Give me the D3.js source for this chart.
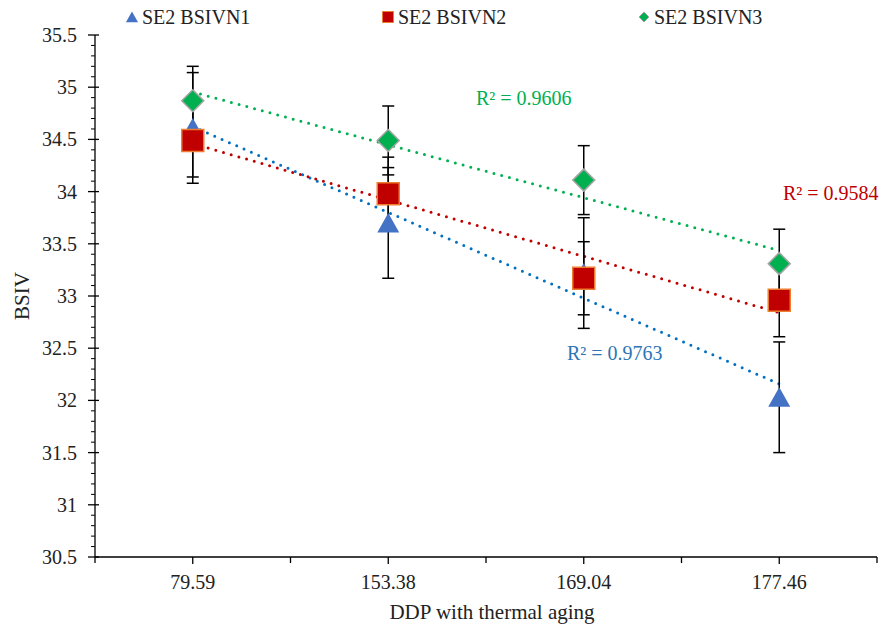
<!DOCTYPE html>
<html>
<head>
<meta charset="utf-8">
<script src="https://cdn.jsdelivr.net/npm/d3@7"></script>
<style>
  body { margin: 0; background: #fff; }
  svg text { font-family: "Liberation Serif", "Times New Roman", serif; }
</style>
</head>
<body>
<div id="chart"></div>
<script>
// DDP categories on the x axis
const categories = ['79.59', '153.38', '169.04', '177.46'];

// BSIV means per series
const bsivn1 = [34.61, 33.70, 33.22, 32.03];
const bsivn2 = [34.49, 33.98, 33.17, 32.96];
const bsivn3 = [34.87, 34.49, 34.11, 33.31];

// error bar half-heights
const err1 = [0.53, 0.53, 0.53, 0.53];
const err2 = [0.35, 0.35, 0.35, 0.35];
const err3 = [0.33, 0.33, 0.33, 0.33];

const seriesNames = ['SE2 BSIVN1', 'SE2 BSIVN2', 'SE2 BSIVN3'];
const r2Labels = ['R² = 0.9763', 'R² = 0.9584', 'R² = 0.9606'];
const yTicks = [30.5, 31, 31.5, 32, 32.5, 33, 33.5, 34, 34.5, 35, 35.5];

const width = 889, height = 628;
const plot = { left: 95, right: 877, top: 35, bottom: 557 };

const svg = d3.select('#chart').append('svg')
  .attr('width', width)
  .attr('height', height);

const x = d3.scaleBand().domain(categories).range([plot.left, plot.right]).padding(0);
const y = d3.scaleLinear().domain([30.5, 35.5]).range([plot.bottom, plot.top]);
const cx = c => x(c) + x.bandwidth() / 2;

const series = [
  { name: seriesNames[0], values: bsivn1, err: err1, shape: 'tri', fill: '#4472C4', stroke: 'none', trend: '#0070C0', label: r2Labels[0], lx: 567, ly: 360, lc: '#2E75B6' },
  { name: seriesNames[1], values: bsivn2, err: err2, shape: 'sq', fill: '#C00000', stroke: '#ED7D31', trend: '#C00000', label: r2Labels[1], lx: 783, ly: 200, lc: '#C00000' },
  { name: seriesNames[2], values: bsivn3, err: err3, shape: 'dia', fill: '#00B050', stroke: '#A5A5A5', trend: '#00B050', label: r2Labels[2], lx: 476, ly: 105, lc: '#00B050' }
];

function markerPath(shape, s) {
  if (shape === 'tri') return `M0,${-s}L${s * 1.1},${s * 0.95}L${-s * 1.1},${s * 0.95}Z`;
  if (shape === 'sq') return `M${-s},${-s}H${s}V${s}H${-s}Z`;
  return `M0,${-s}L${s},0L0,${s}L${-s},0Z`;
}

// axes
const gy = svg.append('g');
gy.append('line')
  .attr('x1', plot.left).attr('x2', plot.left)
  .attr('y1', plot.top).attr('y2', plot.bottom)
  .attr('stroke', '#000').attr('stroke-width', 1.3);
const minor = d3.range(30.5, 35.5, 0.1).filter(v => Math.abs(Math.round(v * 2) - v * 2) > 0.01);
gy.selectAll('line.minor').data(minor).join('line')
  .attr('class', 'minor')
  .attr('x1', plot.left - 4).attr('x2', plot.left)
  .attr('y1', d => y(d)).attr('y2', d => y(d))
  .attr('stroke', '#000').attr('stroke-width', 1);
gy.selectAll('line.major').data(yTicks).join('line')
  .attr('class', 'major')
  .attr('x1', plot.left - 7).attr('x2', plot.left + 4)
  .attr('y1', d => y(d)).attr('y2', d => y(d))
  .attr('stroke', '#000').attr('stroke-width', 1.3);
gy.selectAll('text').data(yTicks).join('text')
  .attr('x', 77).attr('y', d => y(d) + 7)
  .attr('text-anchor', 'end')
  .attr('font-size', 20)
  .attr('fill', '#222')
  .text(d => d);

const gx = svg.append('g');
gx.append('line')
  .attr('x1', plot.left).attr('x2', plot.right)
  .attr('y1', plot.bottom).attr('y2', plot.bottom)
  .attr('stroke', '#000').attr('stroke-width', 1.5);
const bounds = categories.map(c => x(c)).concat([plot.right]);
gx.selectAll('line.b').data(bounds).join('line')
  .attr('class', 'b')
  .attr('x1', d => d).attr('x2', d => d)
  .attr('y1', plot.bottom).attr('y2', plot.bottom + 6)
  .attr('stroke', '#000').attr('stroke-width', 1.3);
gx.selectAll('line.c').data(categories).join('line')
  .attr('class', 'c')
  .attr('x1', d => cx(d)).attr('x2', d => cx(d))
  .attr('y1', plot.bottom).attr('y2', plot.bottom + 7)
  .attr('stroke', '#000').attr('stroke-width', 1.3);
gx.selectAll('text').data(categories).join('text')
  .attr('x', d => cx(d)).attr('y', 589)
  .attr('text-anchor', 'middle')
  .attr('font-size', 20)
  .attr('fill', '#222')
  .text(d => d);

svg.append('text')
  .attr('x', 492).attr('y', 619)
  .attr('text-anchor', 'middle')
  .attr('font-size', 21)
  .attr('fill', '#222')
  .text('DDP with thermal aging');

svg.append('text')
  .attr('transform', `translate(29,${(plot.top + plot.bottom) / 2}) rotate(-90)`)
  .attr('text-anchor', 'middle')
  .attr('font-size', 21)
  .attr('fill', '#222')
  .text('BSIV');

// linear trendlines (least squares over category index)
series.forEach(s => {
  const n = s.values.length;
  const xs = d3.range(1, n + 1);
  const mx = d3.mean(xs), my = d3.mean(s.values);
  const slope = d3.sum(xs, (xi, i) => (xi - mx) * (s.values[i] - my)) / d3.sum(xs, xi => (xi - mx) ** 2);
  const icpt = my - slope * mx;
  svg.append('line')
    .attr('x1', cx(categories[0])).attr('y1', y(icpt + slope))
    .attr('x2', cx(categories[n - 1])).attr('y2', y(icpt + slope * n))
    .attr('stroke', s.trend)
    .attr('stroke-width', 3)
    .attr('stroke-linecap', 'round')
    .attr('stroke-dasharray', '0 8');
});

// error bars
series.forEach(s => {
  const g = svg.append('g').attr('stroke', '#000').attr('stroke-width', 1.5);
  s.values.forEach((v, i) => {
    const px = cx(categories[i]);
    const hi = y(v + s.err[i]), lo = y(v - s.err[i]);
    g.append('line').attr('x1', px).attr('x2', px).attr('y1', hi).attr('y2', lo);
    g.append('line').attr('x1', px - 6).attr('x2', px + 6).attr('y1', hi).attr('y2', hi);
    g.append('line').attr('x1', px - 6).attr('x2', px + 6).attr('y1', lo).attr('y2', lo);
  });
});

// markers
series.forEach(s => {
  svg.append('g').selectAll('path').data(s.values).join('path')
    .attr('transform', (d, i) => `translate(${cx(categories[i])},${y(d)})`)
    .attr('d', markerPath(s.shape, s.shape === 'tri' ? 10 : 11))
    .attr('fill', s.fill)
    .attr('stroke', s.stroke)
    .attr('stroke-width', s.stroke === 'none' ? 0 : 1.5);
});

// R² labels
series.forEach(s => {
  svg.append('text')
    .attr('x', s.lx).attr('y', s.ly)
    .attr('font-size', 20)
    .attr('fill', s.lc)
    .text(s.label);
});

// legend
const legendX = [132, 388, 644];
series.forEach((s, i) => {
  svg.append('path')
    .attr('transform', `translate(${legendX[i]},17)`)
    .attr('d', markerPath(s.shape, s.shape === 'dia' ? 5 : 5.5))
    .attr('fill', s.fill)
    .attr('stroke', s.stroke)
    .attr('stroke-width', s.stroke === 'none' ? 0 : 1);
  svg.append('text')
    .attr('x', legendX[i] + 10).attr('y', 24)
    .attr('font-size', 20)
    .attr('fill', '#222')
    .text(s.name);
});
</script>
</body>
</html>
